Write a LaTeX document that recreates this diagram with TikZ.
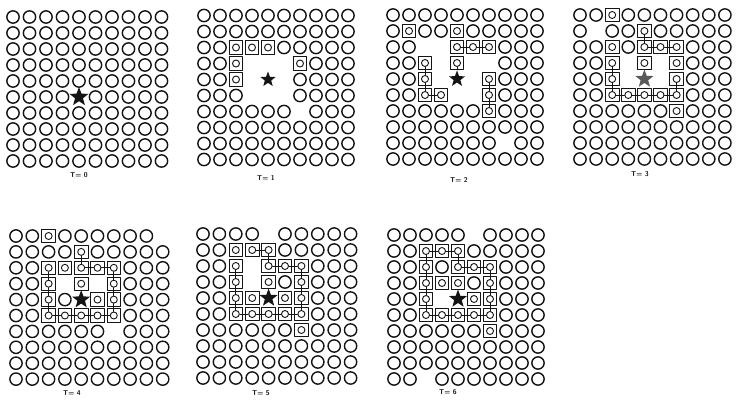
\documentclass[tikz,border=0pt]{standalone}
\usepackage{tikz}
\usetikzlibrary{shapes.geometric}
\definecolor{ink}{gray}{0.08}
\definecolor{inkgray}{gray}{0.35}
\tikzset{
  gdot/.style  = {circle, draw=ink, line width=1.4pt, minimum size=12.3pt, inner sep=0pt},
  gbox/.style  = {rectangle, draw=ink, line width=0.9pt, minimum size=13.5pt, inner sep=0pt},
  gin/.style   = {circle, draw=ink, line width=0.9pt, minimum size=7pt, inner sep=0pt},
  gstar/.style = {star, star points=5, star point ratio=2.4, fill=ink,
                  minimum size=19pt, inner sep=0pt},
  glink/.style = {draw=ink, line width=0.8pt},
  tlab/.style  = {font=\sffamily\bfseries\fontsize{7}{8}\selectfont, text=ink, inner sep=1pt},
}
% #1 name, #2 #3 first cell, #4 #5 pitch, #6 boxed cells, #7 empty cells
\newcommand{\gpanel}[7]{%
  \ifx\relax#6\relax\else
    \foreach \c/\r in {#6}{\expandafter\gdef\csname gbx-#1-\c-\r\endcsname{}}\fi
  \foreach \c/\r in {#7}{\expandafter\gdef\csname gap-#1-\c-\r\endcsname{}}%
  \foreach \c in {0,...,9}{\foreach \r in {0,...,9}{%
    \ifcsname gap-#1-\c-\r\endcsname
      \coordinate (#1-\c-\r) at ({#2+\c*#4},{#3+\r*#5});%
    \else\ifcsname gbx-#1-\c-\r\endcsname
      \node[gbox] at ({#2+\c*#4},{#3+\r*#5}) {};%
      \node[gin] (#1-\c-\r) at ({#2+\c*#4},{#3+\r*#5}) {};%
    \else
      \node[gdot] (#1-\c-\r) at ({#2+\c*#4},{#3+\r*#5}) {};%
    \fi\fi}}}

\begin{document}
\begin{tikzpicture}[x=1pt, y=-1pt, line cap=round, line join=round]
  \useasboundingbox (0,0) rectangle (739,399);
  % T = 0
  \gpanel{A}{13}{17}{16.5}{16}{}{4/5}
  \node[gstar, minimum size=20pt] (A-star) at (A-4-5) {};
  \node[tlab] (A-lab) at (79,175) {T= 0};
  % T = 1
  \gpanel{B}{204}{15.5}{16}{16}{2/2,3/2,4/2,2/3,6/3,2/4}
    {3/3,4/3,5/3,3/4,4/4,5/4,3/5,4/5,5/5,6/6}
  \node[gstar, minimum size=16pt] (B-star) at (B-4-4) {};
  \node[tlab] (B-lab) at (266,178) {T= 1};
  % T = 2
  \gpanel{C}{393}{15}{16}{16}{1/1,4/1,4/2,5/2,6/2,2/3,4/3,2/4,6/4,2/5,3/5,6/5,6/6}
    {2/2,3/2,3/3,5/3,6/3,3/4,4/4,5/4,4/5,5/5,7/8}
  \node[gstar, minimum size=17pt] (C-star) at (C-4-4) {};
  \draw[glink] (C-2-3) -- (C-2-4) -- (C-2-5) -- (C-3-5);
  \draw[glink] (C-4-2) -- (C-5-2) -- (C-6-2);
  \draw[glink] (C-4-3) -- (C-star);
  \draw[glink] (C-6-4) -- (C-6-5) -- (C-6-6);
  \node[tlab] (C-lab) at (459,180) {T= 2};
  % T = 3
  \gpanel{D}{580}{15}{16.1}{16}{2/0,4/1,2/2,4/2,5/2,6/2,2/3,4/3,6/3,2/4,6/4,2/5,3/5,4/5,5/5,6/5,6/6}
    {1/1,3/3,5/3,3/4,4/4,5/4}
  \node[gstar, fill=inkgray] (D-star) at (D-4-4) {};
  \draw[glink] (D-4-1) -- (D-4-2) -- (D-5-2) -- (D-6-2);
  \draw[glink] (D-2-3) -- (D-2-4) -- (D-2-5) -- (D-3-5) -- (D-4-5) -- (D-5-5) -- (D-6-5) -- (D-6-4);
  \node[tlab] (D-lab) at (640,174) {T= 3};
  % T = 4
  \gpanel{E}{16}{236}{16.3}{15.9}{2/0,4/1,2/2,3/2,4/2,5/2,6/2,2/3,4/3,6/3,2/4,5/4,6/4,2/5,3/5,4/5,5/5,6/5}
    {9/0,3/3,5/3,4/4,6/6}
  \node[gstar] (E-star) at (E-4-4) {};
  \draw[glink] (E-4-1) -- (E-4-2) -- (E-5-2) -- (E-6-2) -- (E-6-3) -- (E-6-4) -- (E-6-5)
    -- (E-5-5) -- (E-4-5) -- (E-3-5) -- (E-2-5) -- (E-2-4) -- (E-2-3) -- (E-2-2);
  \node[tlab] (E-lab) at (72,393) {T= 4};
  % T = 5
  \gpanel{F}{203}{234}{16.4}{16}{2/1,3/1,4/1,2/2,4/2,5/2,6/2,2/3,4/3,6/3,2/4,3/4,5/4,6/4,2/5,3/5,4/5,5/5,6/5,6/6}
    {4/0,3/2,3/3,4/4}
  \node[gstar] (F-star) at (F-4-4) {};
  \draw[glink] (F-3-1) -- (F-4-1) -- (F-4-2) -- (F-5-2) -- (F-6-2) -- (F-6-3) -- (F-6-4) -- (F-6-5)
    -- (F-5-5) -- (F-4-5) -- (F-3-5) -- (F-2-5) -- (F-2-4) -- (F-2-3) -- (F-2-2);
  \node[tlab] (F-lab) at (261,393) {T= 5};
  % T = 6
  \gpanel{G}{394}{235}{16}{16}{2/1,3/1,4/1,2/2,4/2,5/2,6/2,2/3,3/3,4/3,6/3,2/4,5/4,6/4,2/5,3/5,4/5,5/5,6/5,6/6}
    {5/0,3/4,4/4,2/9}
  \node[gstar] (G-star) at (G-4-4) {};
  \draw[glink] (G-4-2) -- (G-4-1) -- (G-3-1) -- (G-2-1) -- (G-2-2) -- (G-2-3) -- (G-2-4) -- (G-2-5)
    -- (G-3-5) -- (G-4-5) -- (G-5-5) -- (G-6-5) -- (G-6-4) -- (G-6-3) -- (G-6-2) -- (G-5-2) -- (G-4-2);
  \node[tlab] (G-lab) at (448,392) {T= 6};
\end{tikzpicture}
\end{document}
